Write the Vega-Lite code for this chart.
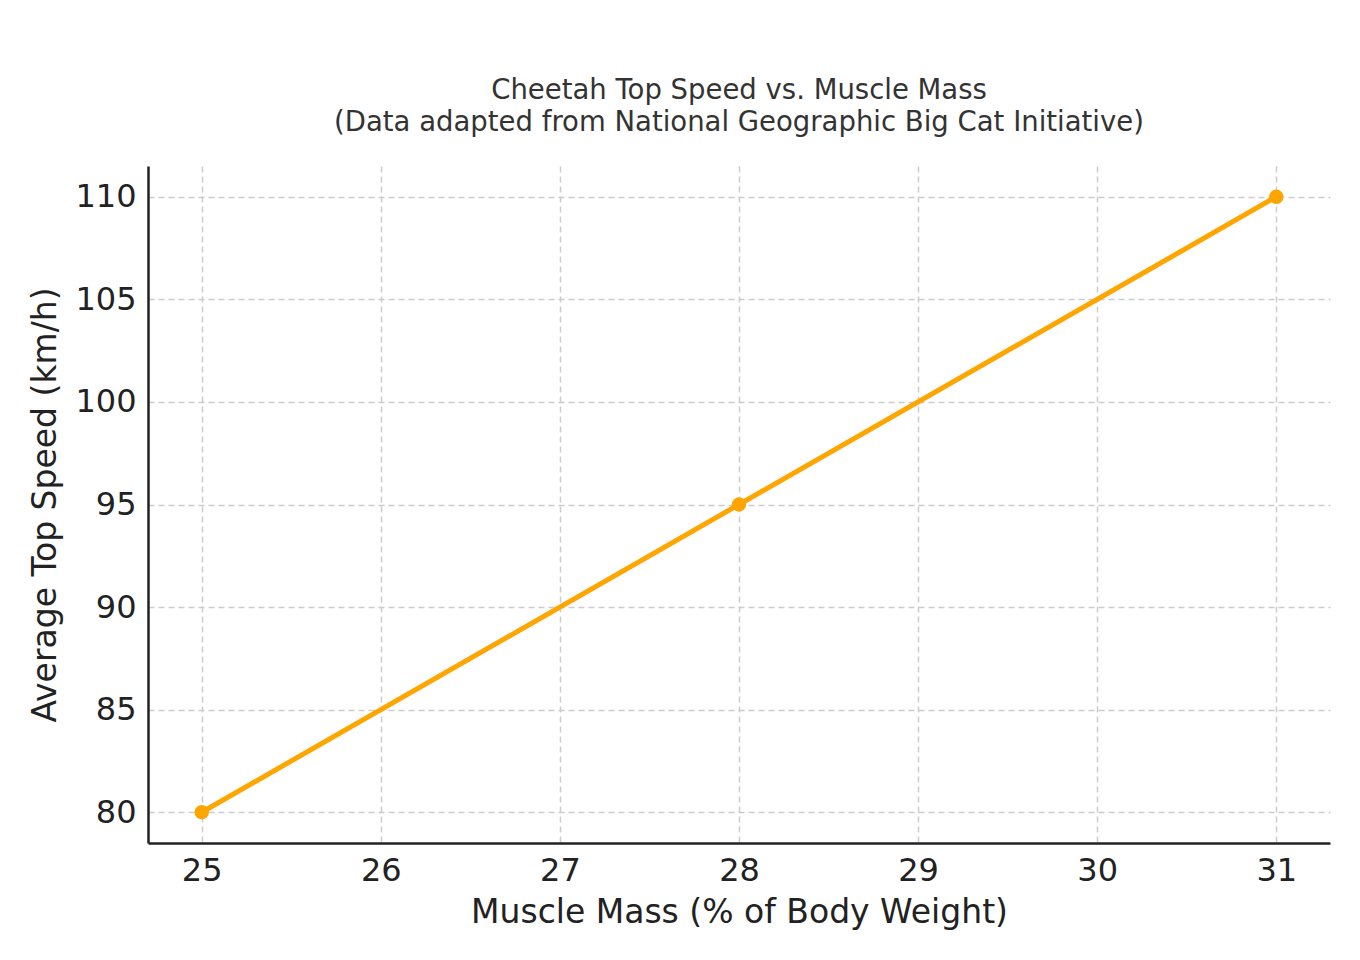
{
  "$schema": "https://vega.github.io/schema/vega-lite/v6.json",
  "width": 1182,
  "height": 677,
  "autosize": {"type": "none"},
  "padding": {"left": 148, "top": 166, "right": 30, "bottom": 117},
  "background": "white",
  "title": {
    "text": ["Cheetah Top Speed vs. Muscle Mass", "(Data adapted from National Geographic Big Cat Initiative)"],
    "font": "DejaVu Sans",
    "fontSize": 27.5,
    "fontWeight": "normal",
    "color": "#333333",
    "lineHeight": 32,
    "anchor": "middle",
    "offset": 30
  },
  "config": {
    "view": {"stroke": null},
    "axis": {
      "labelFont": "DejaVu Sans",
      "titleFont": "DejaVu Sans",
      "labelFontSize": 32,
      "titleFontSize": 33,
      "titleFontWeight": "normal",
      "labelColor": "#222222",
      "titleColor": "#222222",
      "domainColor": "#222222",
      "domainWidth": 2.5,
      "ticks": false,
      "labelPadding": 12,
      "gridColor": "#cccccc",
      "gridWidth": 1.5,
      "gridDash": [6, 4]
    }
  },
  "data": {
    "values": [
      {"muscle": 25, "speed": 80},
      {"muscle": 28, "speed": 95},
      {"muscle": 31, "speed": 110}
    ]
  },
  "encoding": {
    "x": {
      "field": "muscle",
      "type": "quantitative",
      "scale": {"domain": [24.7, 31.3], "nice": false, "zero": false},
      "axis": {"values": [25, 26, 27, 28, 29, 30, 31], "title": "Muscle Mass (% of Body Weight)", "titlePadding": 10, "labelFlush": false}
    },
    "y": {
      "field": "speed",
      "type": "quantitative",
      "scale": {"domain": [78.5, 111.5], "nice": false, "zero": false},
      "axis": {"values": [80, 85, 90, 95, 100, 105, 110], "title": "Average Top Speed (km/h)", "titlePadding": 12, "labelFlush": false}
    }
  },
  "layer": [
    {"mark": {"type": "line", "color": "#FFA500", "strokeWidth": 5}},
    {"mark": {"type": "circle", "color": "#FFA500", "opacity": 1, "size": 210}}
  ]
}
